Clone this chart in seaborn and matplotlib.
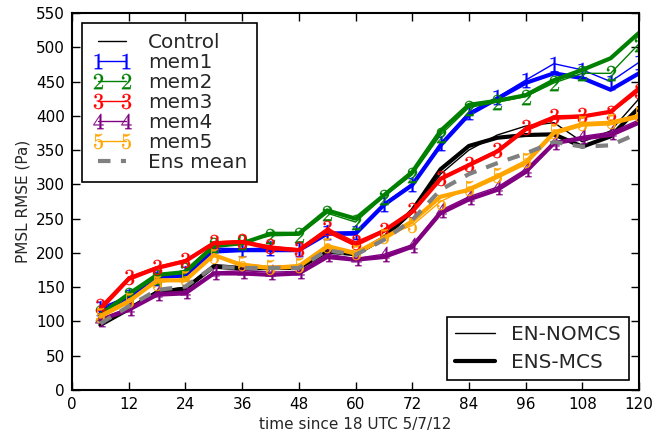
import matplotlib
matplotlib.use("Agg")
import matplotlib.pyplot as plt
from matplotlib.lines import Line2D
import seaborn as sns
import pandas as pd

hours = [6, 12, 18, 24, 30, 36, 42, 48, 54, 60, 66, 72, 78, 84, 90, 96, 102, 108, 114, 120]

control_mcs = [95, 118, 142, 148, 180, 177, 178, 178, 202, 198, 222, 262, 322, 356, 368, 372, 373, 355, 370, 412]
control_nomcs = [97, 120, 145, 150, 183, 180, 180, 181, 205, 196, 220, 258, 315, 350, 372, 385, 390, 362, 378, 425]

mem1_mcs = [115, 135, 165, 167, 202, 204, 204, 204, 228, 228, 270, 299, 357, 402, 425, 448, 462, 455, 438, 462]
mem1_nomcs = [120, 137, 163, 170, 207, 206, 207, 205, 230, 231, 272, 301, 360, 405, 427, 452, 476, 467, 450, 478]

mem2_mcs = [110, 140, 168, 172, 210, 214, 228, 228, 262, 250, 284, 318, 378, 416, 422, 430, 452, 467, 484, 521]
mem2_nomcs = [112, 138, 165, 175, 212, 216, 225, 226, 258, 245, 282, 314, 372, 412, 420, 428, 448, 462, 462, 505]

mem3_mcs = [118, 162, 178, 188, 214, 216, 207, 204, 232, 212, 232, 260, 308, 328, 348, 380, 397, 399, 406, 440]
mem3_nomcs = [122, 165, 180, 190, 216, 218, 210, 206, 236, 216, 234, 262, 310, 330, 350, 383, 400, 401, 404, 436]

mem4_mcs = [102, 117, 139, 141, 170, 170, 168, 170, 194, 190, 194, 209, 258, 278, 292, 318, 360, 367, 372, 390]
mem4_nomcs = [104, 120, 142, 144, 172, 174, 172, 173, 198, 192, 198, 212, 262, 282, 296, 322, 362, 370, 376, 394]

mem5_mcs = [107, 129, 160, 160, 197, 182, 178, 180, 209, 199, 221, 246, 282, 292, 311, 331, 375, 387, 389, 399]
mem5_nomcs = [110, 132, 156, 163, 195, 185, 180, 183, 212, 202, 224, 240, 275, 295, 314, 335, 378, 390, 392, 402]

ens_mean = [97, 122, 146, 151, 180, 178, 178, 178, 204, 197, 219, 248, 292, 315, 331, 345, 362, 355, 357, 375]

names = ["Control", "mem1", "mem2", "mem3", "mem4", "mem5"]
colors = ["black", "blue", "green", "red", "purple", "orange"]
markers = [None, "$1$", "$2$", "$3$", "$4$", "$5$"]
thin_series = [control_nomcs, mem1_nomcs, mem2_nomcs, mem3_nomcs, mem4_nomcs, mem5_nomcs]
thick_series = [control_mcs, mem1_mcs, mem2_mcs, mem3_mcs, mem4_mcs, mem5_mcs]

xticks = [0, 12, 24, 36, 48, 60, 72, 84, 96, 108, 120]
yticks = [0, 50, 100, 150, 200, 250, 300, 350, 400, 450, 500, 550]

sns.set_theme(style="ticks")
plt.rcParams["font.family"] = ["DejaVu Sans"]
plt.rcParams["mathtext.fontset"] = "cm"
plt.rcParams["xtick.direction"] = "in"
plt.rcParams["ytick.direction"] = "in"

fig = plt.figure(figsize=(6.55, 4.42), dpi=100)
ax = fig.add_axes([72 / 655, 1 - 390 / 442, (639 - 72) / 655, (390 - 13) / 442])

for name, col, mk, thin, thick in zip(names, colors, markers, thin_series, thick_series):
    df = pd.DataFrame({"t": hours, "thin": thin, "thick": thick})
    sns.lineplot(data=df, x="t", y="thin", ax=ax, color=col, lw=1.0,
                 marker=mk, markersize=11, markeredgewidth=0.2,
                 markeredgecolor=col, markerfacecolor=col)
    sns.lineplot(data=df, x="t", y="thick", ax=ax, color=col, lw=3.0)

dfm = pd.DataFrame({"t": hours, "v": ens_mean})
sns.lineplot(data=dfm, x="t", y="v", ax=ax, color="gray", lw=3.0, linestyle=(0, (3, 2.5)))

ax.set_xlim(0, 120)
ax.set_ylim(0, 550)
ax.set_xticks(xticks)
ax.set_yticks(yticks)
ax.tick_params(axis="both", which="both", direction="in", top=True, right=True,
               length=6, width=1, labelsize=11, colors="black", pad=5)
for s in ax.spines.values():
    s.set_visible(True)
    s.set_color("black")
    s.set_linewidth(1.5)
ax.set_xlabel("time since 18 UTC 5/7/12", fontsize=11)
ax.set_ylabel("PMSL RMSE (Pa)", fontsize=11)
ax.grid(False)

h1 = []
for name, col, mk in zip(names, colors, markers):
    h1.append(Line2D([], [], color=col, lw=1.0, marker=mk, markersize=11,
                     markeredgewidth=0.2, markeredgecolor=col, markerfacecolor=col))
h1.append(Line2D([], [], color="gray", lw=3.0, linestyle=(0, (3, 2.5))))
leg1 = ax.legend(h1, names + ["Ens mean"], loc="upper left", fontsize=14.4,
                 numpoints=2, labelspacing=0.05, handlelength=2.0, handletextpad=0.8,
                 borderpad=0.5, borderaxespad=0.5, fancybox=False, framealpha=1,
                 edgecolor="black")
leg1.get_frame().set_linewidth(1.2)
ax.add_artist(leg1)

h2 = [Line2D([], [], color="black", lw=1.0), Line2D([], [], color="black", lw=3.0)]
leg2 = ax.legend(h2, ["EN-NOMCS", "ENS-MCS"], loc="lower right", fontsize=14.4,
                 labelspacing=0.45, handlelength=2.0, handletextpad=0.8,
                 borderpad=0.4, borderaxespad=0.5, fancybox=False, framealpha=1,
                 edgecolor="black")
leg2.get_frame().set_linewidth(1.2)

fig.savefig("out.png", dpi=100)
